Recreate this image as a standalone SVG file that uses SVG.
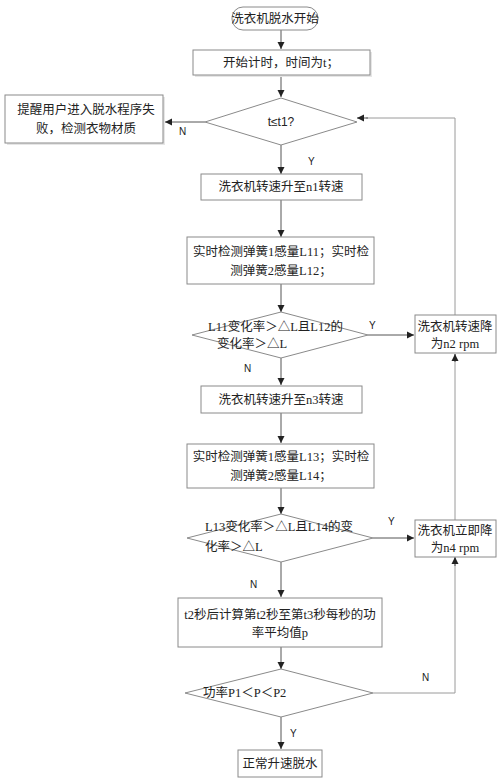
<svg xmlns="http://www.w3.org/2000/svg" width="500" height="781" viewBox="0 0 500 781">
<style>
.b{fill:#fff;stroke:#8a8a8a;stroke-width:1}
.t{font-family:"Liberation Serif","Noto Sans CJK SC",serif;font-size:12.5px;fill:#222}
.l{font-family:"Liberation Sans",Arial,sans-serif;font-size:10px;fill:#222}
.c{fill:none;stroke:#555;stroke-width:1}
.c2{fill:none;stroke:#9a9a9a;stroke-width:1}
</style>
<defs>
<marker id="a" markerWidth="8" markerHeight="8" refX="7" refY="4" orient="auto" markerUnits="userSpaceOnUse"><path d="M0,0.5 L7,4 L0,7.5 z" fill="#222"/></marker>
</defs>
<rect width="500" height="781" fill="#fff"/>
<g id="connectors">
<line class="c" x1="281" y1="30" x2="281" y2="49" marker-end="url(#a)"/>
<line class="c" x1="281" y1="75" x2="281" y2="97" marker-end="url(#a)"/>
<line class="c" x1="205" y1="122" x2="165" y2="122" marker-end="url(#a)"/>
<line class="c" x1="281" y1="145" x2="281" y2="174" marker-end="url(#a)"/>
<line class="c" x1="281" y1="200" x2="281" y2="237" marker-end="url(#a)"/>
<line class="c" x1="281" y1="284" x2="281" y2="312" marker-end="url(#a)"/>
<line class="c" x1="368" y1="335" x2="414" y2="335" marker-end="url(#a)"/>
<line class="c" x1="281" y1="358" x2="281" y2="385" marker-end="url(#a)"/>
<line class="c" x1="281" y1="413" x2="281" y2="443" marker-end="url(#a)"/>
<line class="c" x1="281" y1="488" x2="281" y2="514" marker-end="url(#a)"/>
<line class="c" x1="373" y1="538" x2="414" y2="538" marker-end="url(#a)"/>
<line class="c" x1="281" y1="562" x2="281" y2="597" marker-end="url(#a)"/>
<line class="c" x1="281" y1="647" x2="281" y2="669" marker-end="url(#a)"/>
<line class="c" x1="281" y1="717" x2="281" y2="749" marker-end="url(#a)"/>
<polyline class="c2" points="373,693 455,693 455,558"/>
<line class="c" x1="455" y1="566" x2="455" y2="557" marker-end="url(#a)"/>
<line class="c2" x1="455" y1="522" x2="455" y2="354"/>
<line class="c" x1="455" y1="362" x2="455" y2="354" marker-end="url(#a)"/>
<polyline class="c2" points="455,315 455,118 366,118"/>
<line class="c" x1="368" y1="118" x2="357" y2="118" marker-end="url(#a)"/>
<text class="l" x="179" y="135">N</text>
<text class="l" x="308" y="165">Y</text>
<text class="l" x="369" y="329">Y</text>
<text class="l" x="244" y="372">N</text>
<text class="l" x="388" y="525">Y</text>
<text class="l" x="250" y="588">N</text>
<text class="l" x="422" y="681">N</text>
<text class="l" x="290" y="737">Y</text>
</g>
<g id="start">
<rect class="b" x="232" y="7" width="86" height="23" rx="11" ry="11"/>
<text class="t" x="275" y="23" text-anchor="middle">洗衣机脱水开始</text>
</g>
<g id="timer">
<rect x="195" y="52" width="177" height="25" fill="#e6e6e6"/>
<rect class="b" x="193" y="50" width="177" height="25"/>
<text class="t" x="281" y="67" text-anchor="middle">开始计时，时间为t；</text>
</g>
<g id="d1">
<polygon class="b" points="281,98 357,122 281,145 205,122"/>
<text x="281" y="126" text-anchor="middle" style="font-family:'Liberation Sans','Noto Sans CJK SC',sans-serif;font-size:12px;fill:#222">t≤t1?</text>
</g>
<g id="fail">
<rect x="7" y="97" width="158" height="48" fill="#e6e6e6"/>
<rect class="b" x="5" y="95" width="158" height="48"/>
<text class="t" x="86" y="114" text-anchor="middle">提醒用户进入脱水程序失</text>
<text class="t" x="86" y="133" text-anchor="middle">败，检测衣物材质</text>
</g>
<g id="n1">
<rect class="b" x="201" y="174" width="161" height="26"/>
<text class="t" x="281" y="191" text-anchor="middle">洗衣机转速升至n1转速</text>
</g>
<g id="detect1">
<rect class="b" x="187" y="237" width="187" height="47"/>
<text class="t" x="281" y="256" text-anchor="middle">实时检测弹簧1感量L11；实时检</text>
<text class="t" x="281" y="275" text-anchor="middle">测弹簧2感量L12；</text>
</g>
<g id="d2">
<polygon class="b" points="281,312 368,335 281,358 192,335"/>
<text class="t" x="208" y="331">L11变化率＞△L且L12的</text>
<text class="t" x="217" y="348">变化率＞△L</text>
</g>
<g id="n2">
<rect class="b" x="415" y="315" width="81" height="38"/>
<text class="t" x="455" y="331" text-anchor="middle">洗衣机转速降</text>
<text class="t" x="455" y="348" text-anchor="middle">为n2 rpm</text>
</g>
<g id="n3">
<rect class="b" x="201" y="386" width="161" height="27"/>
<text class="t" x="281" y="404" text-anchor="middle">洗衣机转速升至n3转速</text>
</g>
<g id="detect2">
<rect class="b" x="187" y="444" width="187" height="44"/>
<text class="t" x="281" y="461" text-anchor="middle">实时检测弹簧1感量L13；实时检</text>
<text class="t" x="281" y="480" text-anchor="middle">测弹簧2感量L14；</text>
</g>
<g id="d3">
<polygon class="b" points="281,514 373,538 281,562 187,538"/>
<text class="t" x="205" y="531">L13变化率＞△L且L14的变</text>
<text class="t" x="205" y="551">化率＞△L</text>
</g>
<g id="n4">
<rect class="b" x="415" y="520" width="81" height="37"/>
<text class="t" x="455" y="535" text-anchor="middle">洗衣机立即降</text>
<text class="t" x="455" y="552" text-anchor="middle">为n4 rpm</text>
</g>
<g id="power">
<rect class="b" x="178" y="598" width="204" height="49"/>
<text class="t" x="280" y="619" text-anchor="middle">t2秒后计算第t2秒至第t3秒每秒的功</text>
<text class="t" x="280" y="637" text-anchor="middle">率平均值p</text>
</g>
<g id="d4">
<polygon class="b" points="281,669 373,693 281,717 185,693"/>
<text class="t" x="203" y="697">功率P1＜P＜P2</text>
</g>
<g id="normal">
<rect class="b" x="238" y="750" width="84" height="27"/>
<text class="t" x="280" y="768" text-anchor="middle">正常升速脱水</text>
</g>
</svg>
